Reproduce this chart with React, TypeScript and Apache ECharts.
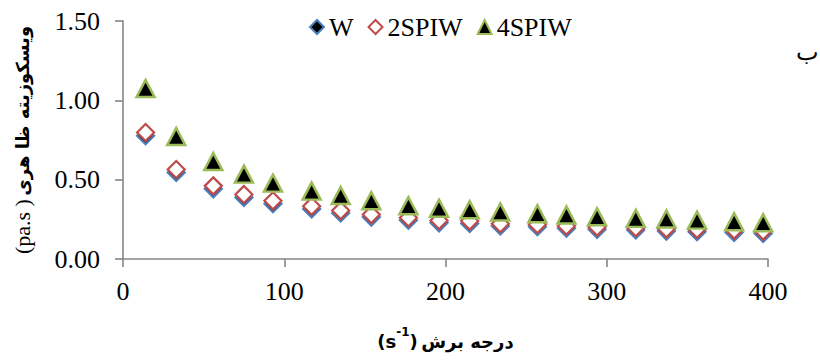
import React, { useEffect, useRef } from "react";
import * as echarts from "echarts";

const shearRate = [14, 33, 56, 75, 93, 117, 135, 154, 177, 196, 215, 234, 257, 275, 294, 318, 337, 356, 379, 397];
const viscW = [0.777, 0.545, 0.442, 0.388, 0.348, 0.315, 0.29, 0.264, 0.244, 0.228, 0.224, 0.208, 0.203, 0.194, 0.187, 0.183, 0.176, 0.172, 0.167, 0.161];
const visc2SPIW = [0.797, 0.564, 0.461, 0.407, 0.367, 0.333, 0.306, 0.28, 0.26, 0.243, 0.239, 0.222, 0.218, 0.208, 0.201, 0.197, 0.19, 0.187, 0.182, 0.176];
const visc4SPIW = [1.075, 0.772, 0.614, 0.535, 0.478, 0.428, 0.4, 0.367, 0.336, 0.32, 0.31, 0.296, 0.285, 0.277, 0.266, 0.256, 0.252, 0.245, 0.235, 0.228];
const seriesNames = ["W", "2SPIW", "4SPIW"];
const yTicks = { min: 0, max: 1.5, interval: 0.5 };
const xTicks = { min: 0, max: 400, interval: 100 };

const serif = "'Liberation Serif', 'Times New Roman', serif";
const sans = "'DejaVu Sans', 'Noto Sans', sans-serif";

export default function App() {
  const ref = useRef<HTMLDivElement>(null);
  useEffect(() => {
    document.body.style.margin = "0";
    const chart = echarts.init(ref.current!, null, { renderer: "svg" });
    const pair = (ys: number[]) => shearRate.map((x, i) => [x, ys[i]]);
    const axisLineStyle = { color: "#868686", width: 1.6 };
    chart.setOption({
      animation: false,
      backgroundColor: "#ffffff",
      grid: { left: 123, right: 52, top: 21, bottom: 102, containLabel: false },
      legend: {
        data: seriesNames,
        left: 304,
        top: 9,
        itemWidth: 14,
        itemHeight: 14,
        itemGap: 14,
        textStyle: { fontFamily: serif, fontSize: 26, color: "#000" },
      },
      xAxis: {
        type: "value",
        min: xTicks.min,
        max: xTicks.max,
        interval: xTicks.interval,
        splitLine: { show: false },
        axisLine: { show: true, lineStyle: axisLineStyle },
        axisTick: { show: true, length: 8, lineStyle: axisLineStyle },
        axisLabel: { fontFamily: serif, fontSize: 26, color: "#000", margin: 19 },
        name: "{p|(s}{sup|-1}{p|)} {b|درجه برش}",
        nameLocation: "middle",
        nameGap: 67,
        nameTextStyle: {
          rich: {
            p: { fontFamily: sans, fontSize: 18, fontWeight: "bold", color: "#000", lineHeight: 24, verticalAlign: "bottom" },
            sup: { fontFamily: sans, fontSize: 12, fontWeight: "bold", color: "#000", lineHeight: 24, verticalAlign: "top" },
            b: { fontFamily: sans, fontSize: 18, fontWeight: "bold", color: "#000", lineHeight: 24, verticalAlign: "bottom" },
          },
        },
      },
      yAxis: {
        type: "value",
        min: yTicks.min,
        max: yTicks.max,
        interval: yTicks.interval,
        splitLine: { show: false },
        axisLine: { show: true, lineStyle: axisLineStyle },
        axisTick: { show: true, length: 8, lineStyle: axisLineStyle },
        axisLabel: {
          fontFamily: serif,
          fontSize: 26,
          color: "#000",
          margin: 23,
          formatter: (v: number) => v.toFixed(2),
        },
        name: "{p|(pa.s )} {b|ویسکوزیته ظا هری}",
        nameLocation: "middle",
        nameRotate: 90,
        nameGap: 90,
        nameTextStyle: {
          rich: {
            p: { fontFamily: serif, fontSize: 22, color: "#000" },
            b: { fontFamily: sans, fontSize: 18, fontWeight: "bold", color: "#000" },
          },
        },
      },
      graphic: [
        {
          type: "text",
          left: 796,
          top: 40,
          style: { text: "ب", font: `24px ${serif}`, fill: "#000" },
        },
      ],
      series: [
        {
          name: seriesNames[0],
          type: "scatter",
          data: pair(viscW),
          symbol: "diamond",
          symbolSize: 17,
          itemStyle: { color: "#000000", borderColor: "#4a7ebb", borderWidth: 2.2, opacity: 1 },
          z: 2,
        },
        {
          name: seriesNames[1],
          type: "scatter",
          data: pair(visc2SPIW),
          symbol: "diamond",
          symbolSize: 17,
          itemStyle: { color: "#ffffff", borderColor: "#be4b48", borderWidth: 2.2, opacity: 1 },
          z: 3,
        },
        {
          name: seriesNames[2],
          type: "scatter",
          data: pair(visc4SPIW),
          symbol: "triangle",
          symbolSize: [18, 17],
          itemStyle: { color: "#000000", borderColor: "#9bbb59", borderWidth: 2.5, opacity: 1 },
          z: 4,
        },
      ],
    });
    return () => chart.dispose();
  }, []);
  return <div ref={ref} style={{ position: "absolute", left: 0, top: 0, width: 820, height: 361 }} />;
}
